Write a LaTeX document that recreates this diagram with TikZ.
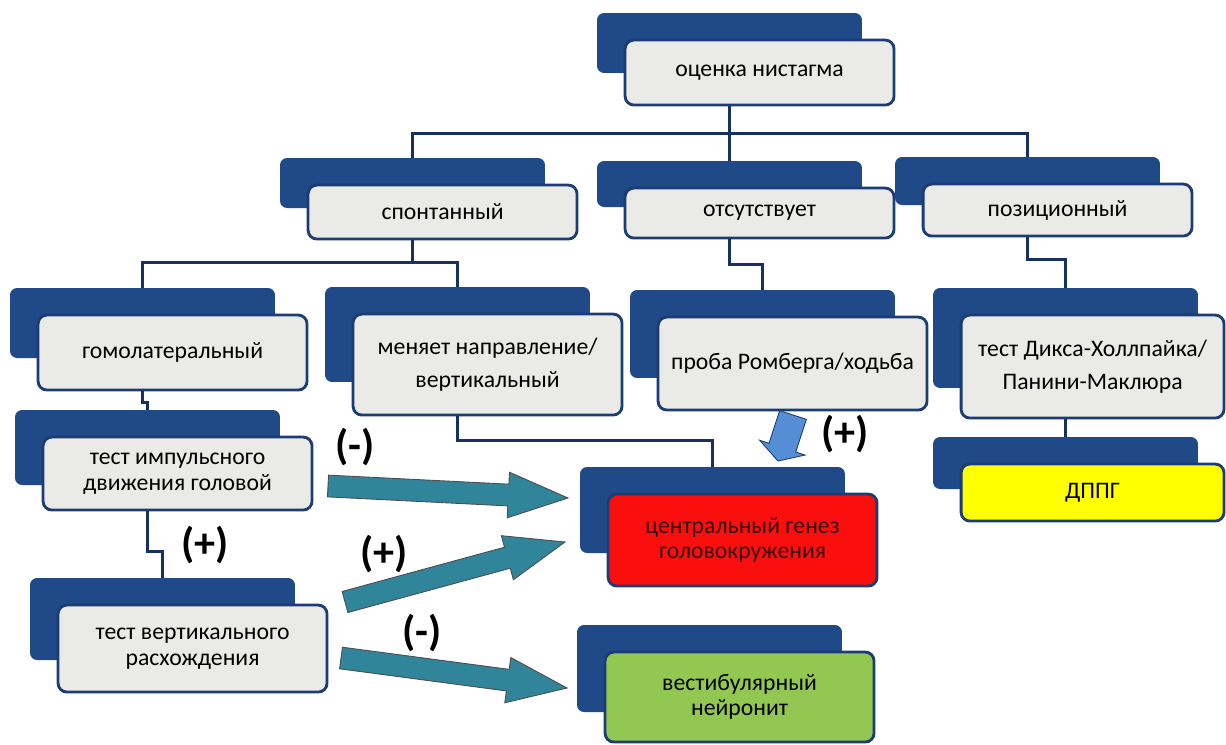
\documentclass[tikz,border=0pt]{standalone}
\usepackage{fontspec}
\setmainfont{Carlito}
\usetikzlibrary{calc}
\definecolor{navyback}{RGB}{31,73,135}
\definecolor{navyline}{RGB}{28,60,118}
\definecolor{boxgray}{RGB}{234,234,230}
\definecolor{linkblue}{RGB}{22,48,98}
\definecolor{redbox}{RGB}{250,14,14}
\definecolor{redtext}{RGB}{55,12,12}
\definecolor{greenbox}{RGB}{146,200,82}
\definecolor{yellowbox}{RGB}{255,255,0}
\definecolor{tealarr}{RGB}{49,133,155}
\definecolor{bluearr}{RGB}{85,142,213}
\begin{document}
\begin{tikzpicture}[x=0.02cm,y=-0.02cm,
  backbox/.style={fill=navyback,rounded corners=4pt,minimum width=5.3cm,inner sep=0pt},
  frontbox/.style={draw=navyline,line width=1.6pt,fill=boxgray,rounded corners=5pt,
    minimum width=5.38cm,inner sep=2pt,anchor=north west,align=center,
    font=\fontsize{13.5}{14.5}\selectfont},
  loose/.style={font=\fontsize{13.5}{19}\selectfont},
  link/.style={draw=linkblue,line width=1.8pt},
  sign/.style={font=\fontsize{24}{24}\selectfont\bfseries},
  tealarrow/.style={fill=tealarr,draw=black!70,line width=0.5pt},
  bluearrow/.style={fill=bluearr,draw=navyline,line width=0.5pt}]
\useasboundingbox (0,0) rectangle (1226,744);

\node[backbox,minimum height=1.2cm] (nyst-b) at (729.5,43) {};
\node[frontbox,minimum height=1.3cm] (nyst) at ($(nyst-b.north west)+(27,26)$) {оценка нистагма};

\node[backbox,minimum height=1.0cm] (spont-b) at (412.5,183) {};
\node[frontbox,minimum height=1.08cm] (spont) at ($(spont-b.north west)+(27,26)$) {спонтанный};
\node[backbox,minimum height=0.92cm] (none-b) at (729.5,184) {};
\node[frontbox,minimum height=1.0cm] (none) at ($(none-b.north west)+(27,26)$) {отсутствует};
\node[backbox,minimum height=0.96cm] (pos-b) at (1027.5,181) {};
\node[frontbox,minimum height=1.04cm] (pos) at ($(pos-b.north west)+(27,26)$) {позиционный};

\node[backbox,minimum height=1.4cm] (homo-b) at (142.5,323) {};
\node[frontbox,minimum height=1.5cm] (homo) at ($(homo-b.north west)+(27,26)$) {гомолатеральный};
\node[backbox,minimum height=1.9cm] (change-b) at (457.5,334.5) {};
\node[frontbox,loose,minimum height=2.02cm] (change) at ($(change-b.north west)+(27,26)$) {меняет направление/\\вертикальный};
\node[backbox,minimum height=1.76cm] (romb-b) at (762.5,334) {};
\node[frontbox,minimum height=1.86cm] (romb) at ($(romb-b.north west)+(27,26)$) {проба Ромберга/ходьба};
\node[backbox,minimum height=2.0cm] (dix-b) at (1065.5,338) {};
\node[frontbox,loose,minimum height=2.06cm,minimum width=5.26cm] (dix) at ($(dix-b.north west)+(27,26)$) {тест Дикса-Холлпайка/\\Панини-Маклюра};
\node[backbox,minimum height=1.04cm] (ddpg-b) at (1065.5,463) {};
\node[frontbox,fill=yellowbox,minimum height=1.14cm,minimum width=5.26cm] (ddpg) at ($(ddpg-b.north west)+(27,26)$) {ДППГ};

\node[backbox,minimum height=1.5cm] (imp-b) at (147.5,447.5) {};
\node[frontbox,minimum height=1.46cm] (imp) at ($(imp-b.north west)+(27,26)$) {тест импульсного\\движения головой};
\node[backbox,minimum height=1.64cm] (vert-b) at (162.5,619) {};
\node[frontbox,minimum height=1.74cm] (vert) at ($(vert-b.north west)+(27,26)$) {тест вертикального\\расхождения};

\node[backbox,minimum height=1.72cm] (cent-b) at (712.5,510) {};
\node[frontbox,fill=redbox,text=redtext,minimum height=1.84cm] (cent) at ($(cent-b.north west)+(27,26)$) {центральный генез\\головокружения};
\node[backbox,minimum height=1.74cm] (vest-b) at (709.5,668.5) {};
\node[frontbox,fill=greenbox,minimum height=1.8cm] (vest) at ($(vest-b.north west)+(27,26)$) {вестибулярный\\нейронит};

\draw[link] (nyst.south -| nyst-b) -- ++(0,27) -| (spont-b.north);
\draw[link] (nyst.south -| nyst-b) -- (none-b.north);
\draw[link] (nyst.south -| nyst-b) -- ++(0,27) -| (pos-b.north);
\draw[link] (spont.south -| spont-b) -- ++(0,22) -| (homo-b.north);
\draw[link] (spont.south -| spont-b) -- ++(0,22) -| (change-b.north);
\draw[link] (none.south -| none-b) -- ++(0,25) -| (romb-b.north);
\draw[link] (pos.south -| pos-b) -- ++(0,22) -| (dix-b.north);
\draw[link] (homo.south -| homo-b) -- ++(0,11) -| (imp-b.north);
\draw[link] (imp.south -| imp-b) -- ++(0,40) -| (vert-b.north);
\draw[link] (change.south -| change-b) -- ++(0,24) -| (cent-b.north);
\draw[link] (dix.south -| dix-b) -- (ddpg-b.north);

% block arrows
\coordinate (t1) at (328,486); \coordinate (p1) at (568,498);
\coordinate (t2) at (345,602); \coordinate (p2) at (565,542);
\coordinate (t3) at (341,658); \coordinate (p3) at (567,688);
\foreach \t/\p in {t1/p1,t2/p2,t3/p3}{
  \coordinate (h) at ($(\p)!34pt!(\t)$);
  \filldraw[tealarrow] ($(\t)!6.2pt!90:(\p)$) -- ($(h)!6.2pt!90:(\p)$) -- ($(h)!13pt!90:(\p)$)
    -- (\p) -- ($(h)!13pt!-90:(\p)$) -- ($(h)!6.2pt!-90:(\p)$) -- ($(\t)!6.2pt!-90:(\p)$) -- cycle;
}
\coordinate (bt) at (793,415); \coordinate (bp) at (778,461);
\coordinate (bh) at ($(bp)!8pt!(bt)$);
\filldraw[bluearrow] ($(bt)!8pt!90:(bp)$) -- ($(bh)!8pt!90:(bp)$) -- ($(bh)!13.6pt!90:(bp)$)
  -- (bp) -- ($(bh)!13.6pt!-90:(bp)$) -- ($(bh)!8pt!-90:(bp)$) -- ($(bt)!8pt!-90:(bp)$) -- cycle;

\node[sign] (neg-a) at (355,447) {(-)};
\node[sign] (pos-a) at (384,554) {(+)};
\node[sign] (neg-b) at (422,633) {(-)};
\node[sign] (pos-c) at (205,545) {(+)};
\node[sign] (pos-d) at (845,434) {(+)};
\end{tikzpicture}
\end{document}
